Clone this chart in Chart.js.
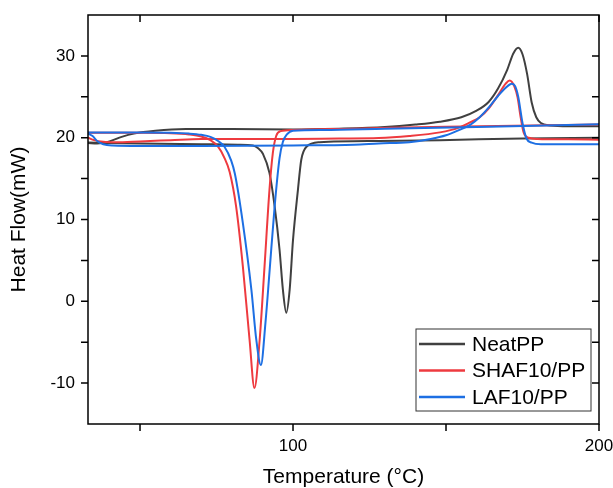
<!DOCTYPE html>
<html>
<head>
<meta charset="utf-8">
<title>DSC heat flow</title>
<script src="https://cdn.jsdelivr.net/npm/chart.js@4.4.0/dist/chart.umd.min.js"></script>
<style>
  html, body { margin: 0; padding: 0; background: #fff; }
  canvas { display: block; }
</style>
</head>
<body>
<canvas id="dsc" width="613" height="488"></canvas>
<script>
// --- axis ranges / ticks ---
const xMin = 33, xMax = 200;
const yMin = -15, yMax = 35;
const xTickValues = [50, 100, 150, 200];
const xTickLabels = [100, 200];
const yTickValues = [-10, -5, 0, 5, 10, 15, 20, 25, 30];
const yTickLabels = [-10, 0, 10, 20, 30];

const seriesNames = ['NeatPP', 'SHAF10/PP', 'LAF10/PP'];
const seriesColors = ['#404040', '#ee3a3f', '#1d6fe3'];

// NeatPP - heating scan (melting peak)
const neatHeatX = [33, 36, 40, 44, 48, 55, 65, 80, 100, 115, 130, 140, 148, 155, 160, 164, 167, 170, 172, 173.6, 175, 176.5, 178, 179.5, 181, 184, 190, 200];
const neatHeatY = [19.35, 19.3, 19.55, 20.1, 20.5, 20.85, 21.05, 21.05, 21.0, 21.1, 21.3, 21.6, 21.95, 22.5, 23.3, 24.4, 26.0, 28.3, 30.3, 31.0, 30.2, 27.8, 24.3, 22.5, 21.8, 21.5, 21.4, 21.4];
// NeatPP - cooling scan (crystallisation dip)
const neatCoolX = [33, 50, 70, 82, 86.9, 88.5, 90.2, 92.3, 94, 95.6, 96.7, 97.8, 98.9, 100, 101.6, 102.7, 104.4, 108.7, 128, 148, 175, 200];
const neatCoolY = [19.4, 19.3, 19.2, 19.15, 19.05, 18.75, 18.0, 15.7, 11.6, 6.3, 1.4, -1.4, 1.4, 7.5, 13.6, 17.3, 18.9, 19.45, 19.6, 19.7, 19.9, 20.0];

// SHAF10/PP
const shafHeatX = [33, 35, 38, 42, 50, 60, 70, 85, 100, 115, 128, 138, 148, 154, 158, 161, 164, 167, 169.5, 170.8, 172.3, 173.4, 174.4, 175.4, 177, 180, 190, 200];
const shafHeatY = [20.0, 19.7, 19.5, 19.45, 19.55, 19.7, 19.85, 19.85, 19.85, 19.9, 19.95, 20.2, 20.65, 21.2, 21.9, 22.5, 23.6, 25.2, 26.6, 27.0, 26.3, 24.9, 22.5, 20.6, 20.0, 19.85, 19.8, 19.75];
const shafCoolX = [33, 50, 60, 66, 70, 73, 75.5, 77.5, 79.3, 81.4, 83.6, 85.8, 87.4, 89.1, 90.7, 92.3, 93.4, 94.5, 96, 100, 120, 150, 200];
const shafCoolY = [20.6, 20.6, 20.55, 20.4, 20.15, 19.7, 18.9, 17.6, 15.8, 11.6, 4.3, -4.7, -10.6, -4.7, 4.3, 13.6, 18.1, 20.2, 20.8, 20.95, 21.1, 21.35, 21.6];

// LAF10/PP
const lafHeatX = [33, 34.5, 36, 38, 41, 50, 70, 100, 120, 128, 138, 145, 150, 154, 158, 161, 164, 167, 169.5, 171.5, 172.6, 173.6, 175, 176.3, 178, 181, 190, 200];
const lafHeatY = [20.5, 20.2, 19.6, 19.2, 19.05, 19.0, 19.0, 19.05, 19.15, 19.3, 19.45, 19.85, 20.3, 20.9, 21.6, 22.5, 23.7, 25.1, 26.1, 26.6, 26.3, 25.0, 21.8, 19.9, 19.4, 19.2, 19.2, 19.2];
const lafCoolX = [33, 50, 60, 66, 70, 73, 75.5, 77.6, 79.8, 81, 83.6, 86.4, 88, 89.5, 91, 92.3, 94, 95.6, 96.7, 98, 100, 110, 130, 160, 200];
const lafCoolY = [20.65, 20.65, 20.6, 20.5, 20.35, 20.1, 19.6, 18.9, 17.2, 15.6, 9.6, 1.4, -4.7, -7.8, -2.6, 3.5, 11.6, 17.5, 19.5, 20.4, 20.85, 20.95, 21.1, 21.3, 21.65];

const FONT = "'Liberation Sans', Arial, sans-serif";

function pts(xs, ys) {
    return xs.map((x, i) => ({ x: x, y: ys[i] }));
}

function curve(xs, ys, idx, order) {
    return {
        label: seriesNames[idx],
        data: pts(xs, ys),
        borderColor: seriesColors[idx],
        borderWidth: 2,
        pointRadius: 0,
        showLine: true,
        fill: false,
        cubicInterpolationMode: 'monotone',
        order: order
    };
}

// stop Chart.js from reserving extra room for the edge tick labels
function fixBox(s) {
    s.paddingTop = 0;
    s.paddingBottom = 0;
    s.paddingLeft = 0;
    s.paddingRight = 0;
}

// Frame, mirrored ticks and the in-plot legend
const framePlugin = {
    id: 'frame',
    afterDraw(chart) {
        const { ctx, chartArea: a, scales } = chart;
        const x = scales.x, y = scales.y;
        const tl = 7;
        ctx.save();
        ctx.strokeStyle = '#000';
        ctx.lineWidth = 1.5;
        ctx.strokeRect(a.left, a.top, a.right - a.left, a.bottom - a.top);
        ctx.beginPath();
        xTickValues.forEach(v => {
            const px = x.getPixelForValue(v);
            ctx.moveTo(px, a.bottom); ctx.lineTo(px, a.bottom + tl);
            ctx.moveTo(px, a.top); ctx.lineTo(px, a.top + tl);
        });
        yTickValues.forEach(v => {
            const py = y.getPixelForValue(v);
            ctx.moveTo(a.left - tl, py); ctx.lineTo(a.left, py);
            ctx.moveTo(a.right, py); ctx.lineTo(a.right - tl, py);
        });
        ctx.stroke();

        // legend box, bottom right of plot
        const w = 175, h = 82;
        const bx = a.right - 8 - w, by = a.bottom - 13 - h;
        ctx.fillStyle = '#fff';
        ctx.fillRect(bx, by, w, h);
        ctx.strokeStyle = '#333';
        ctx.lineWidth = 1;
        ctx.strokeRect(bx, by, w, h);
        ctx.font = '21px ' + FONT;
        ctx.textBaseline = 'middle';
        seriesNames.forEach((name, i) => {
            const ry = by + 15 + i * 26.5;
            ctx.strokeStyle = seriesColors[i];
            ctx.lineWidth = 2.5;
            ctx.beginPath();
            ctx.moveTo(bx + 3, ry);
            ctx.lineTo(bx + 49, ry);
            ctx.stroke();
            ctx.fillStyle = '#000';
            ctx.fillText(name, bx + 56, ry + 1);
        });
        ctx.restore();
    }
};

new Chart(document.getElementById('dsc'), {
    type: 'scatter',
    data: {
        datasets: [
            curve(neatHeatX, neatHeatY, 0, 3),
            curve(neatCoolX, neatCoolY, 0, 2),
            curve(shafHeatX, shafHeatY, 1, 1),
            curve(shafCoolX, shafCoolY, 1, 1),
            curve(lafHeatX, lafHeatY, 2, 0),
            curve(lafCoolX, lafCoolY, 2, 0)
        ]
    },
    options: {
        responsive: false,
        animation: false,
        devicePixelRatio: 1,
        layout: { padding: { top: 15, right: 14, left: 0, bottom: 0 } },
        plugins: {
            legend: { display: false },
            tooltip: { enabled: false }
        },
        scales: {
            x: {
                type: 'linear',
                min: xMin,
                max: xMax,
                afterBuildTicks: s => { s.ticks = xTickValues.map(v => ({ value: v })); },
                afterFit: s => { s.height = 64; fixBox(s); },
                grid: { display: false, drawTicks: false },
                border: { display: false },
                ticks: {
                    autoSkip: false,
                    maxRotation: 0,
                    padding: 12,
                    color: '#000',
                    font: { family: FONT, size: 17 },
                    callback: v => xTickLabels.includes(v) ? String(v) : ''
                },
                title: {
                    display: true,
                    text: 'Temperature (°C)',
                    color: '#000',
                    font: { family: FONT, size: 21, lineHeight: 1 },
                    padding: { top: 0, bottom: 0 }
                }
            },
            y: {
                type: 'linear',
                min: yMin,
                max: yMax,
                afterBuildTicks: s => { s.ticks = yTickValues.map(v => ({ value: v })); },
                afterFit: s => { s.width = 88; fixBox(s); },
                grid: { display: false, drawTicks: false },
                border: { display: false },
                ticks: {
                    autoSkip: false,
                    padding: 13,
                    color: '#000',
                    font: { family: FONT, size: 17 },
                    callback: v => yTickLabels.includes(v) ? String(v) : ''
                },
                title: {
                    display: true,
                    text: 'Heat Flow(mW)',
                    color: '#000',
                    font: { family: FONT, size: 21, lineHeight: 1 },
                    padding: { top: 9, bottom: 0 }
                }
            }
        }
    },
    plugins: [framePlugin]
});
</script>
</body>
</html>
